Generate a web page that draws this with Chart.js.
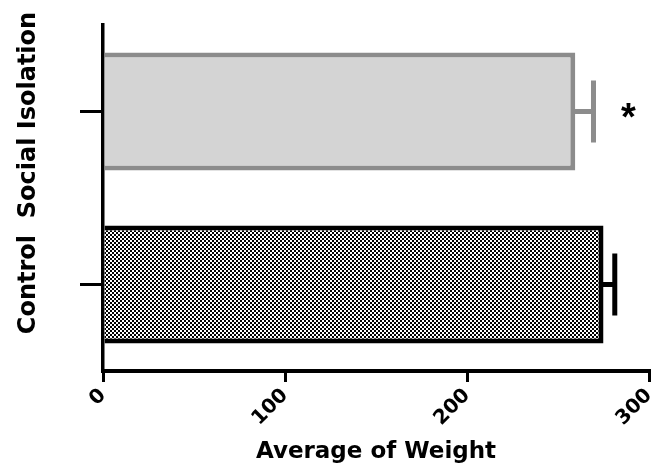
<!DOCTYPE html>
<html>
<head>
<meta charset="utf-8">
<script src="https://cdn.jsdelivr.net/npm/chart.js@4"></script>
<style>
	html, body { margin: 0; padding: 0; background: #fff; }
</style>
</head>
<body>
<canvas id="myChart" width="657" height="470"></canvas>
<script>
// data
var groups = ['Social Isolation', 'Control'];
var weights = [259.5, 275];
var sem = [10, 6.2];
var marks = ['*', ''];
var xTicks = [0, 100, 200, 300];

var yTitle = 'Control  Social Isolation';
var xTitle = 'Average of Weight';

var edgeColors = ['#8c8c8c', '#000000'];
var boldFamily = '"DejaVu Sans", sans-serif';

Chart.defaults.font.family = boldFamily;
Chart.defaults.color = '#000';

var ctx = document.getElementById('myChart').getContext('2d');

// small black/white checker used as the Control fill
function checker() {
	var c = document.createElement('canvas');
	c.width = 4;
	c.height = 4;
	var g = c.getContext('2d');
	g.fillStyle = '#fff';
	g.fillRect(0, 0, 4, 4);
	g.fillStyle = '#000';
	g.fillRect(0, 0, 2, 2);
	g.fillRect(2, 2, 2, 2);
	return ctx.createPattern(c, 'repeat');
}

// SEM whiskers + significance star
var errorBars = {
	id: 'errorBars',
	afterDatasetsDraw: function (chart) {
		var c = chart.ctx;
		var xs = chart.scales.x;
		var meta = chart.getDatasetMeta(0);
		meta.data.forEach(function (bar, i) {
			var x0 = xs.getPixelForValue(weights[i]);
			var x1 = xs.getPixelForValue(weights[i] + sem[i]);
			var half = bar.height * 0.263;
			c.save();
			c.strokeStyle = edgeColors[i];
			c.lineWidth = 5;
			c.beginPath();
			c.moveTo(x0 - 3, bar.y);
			c.lineTo(x1, bar.y);
			c.moveTo(x1, bar.y - half);
			c.lineTo(x1, bar.y + half);
			c.stroke();
			if (marks[i]) {
				c.fillStyle = '#000';
				c.font = 'bold 38px "Liberation Sans", Arial, sans-serif';
				c.textAlign = 'center';
				c.textBaseline = 'alphabetic';
				c.fillText(marks[i], x1 + 35, bar.y + 18);
			}
			c.restore();
		});
	}
};

// vertical group title on the left
var sideTitle = {
	id: 'sideTitle',
	afterDraw: function (chart) {
		var c = chart.ctx;
		var area = chart.chartArea;
		c.save();
		c.translate(area.left - 74, area.top + 148);
		c.rotate(-Math.PI / 2);
		c.fillStyle = '#000';
		c.font = 'bold 24px ' + boldFamily;
		c.textAlign = 'center';
		c.textBaseline = 'middle';
		c.fillText(yTitle, 0, 0);
		c.restore();
	}
};

var chart = new Chart(ctx, {
	type: 'bar',
	data: {
		labels: groups,
		datasets: [{
			data: weights,
			backgroundColor: ['#d4d4d4', checker()],
			borderColor: edgeColors,
			borderWidth: 5,
			borderSkipped: 'start',
			barPercentage: 0.682,
			categoryPercentage: 1
		}]
	},
	options: {
		indexAxis: 'y',
		responsive: false,
		animation: false,
		devicePixelRatio: 1,
		layout: {
			padding: { top: 25, right: 8, bottom: 0, left: 0 }
		},
		plugins: {
			legend: { display: false },
			tooltip: { enabled: false }
		},
		scales: {
			x: {
				type: 'linear',
				min: xTicks[0],
				max: xTicks[xTicks.length - 1],
				afterBuildTicks: function (scale) {
					scale.ticks = xTicks.map(function (v) { return { value: v }; });
				},
				ticks: {
					minRotation: 45,
					maxRotation: 45,
					padding: 2,
					font: { size: 20, weight: 'bold' }
				},
				grid: {
					drawOnChartArea: false,
					color: '#000',
					lineWidth: 3,
					tickLength: 11
				},
				border: { color: '#000', width: 4 },
				title: {
					display: true,
					text: xTitle,
					font: { size: 23, weight: 'bold' },
					padding: { top: 0, bottom: 4 }
				},
				afterFit: function (scale) {
					scale.height = 99;
					scale.paddingLeft = 0;
					scale.paddingRight = 0;
				}
			},
			y: {
				type: 'category',
				ticks: { display: false },
				grid: {
					offset: false,
					drawOnChartArea: false,
					color: '#000',
					lineWidth: 3,
					tickLength: 23
				},
				border: { color: '#000', width: 3.5 },
				afterFit: function (scale) {
					scale.width = 103;
				}
			}
		}
	},
	plugins: [errorBars, sideTitle]
});
</script>
</body>
</html>
